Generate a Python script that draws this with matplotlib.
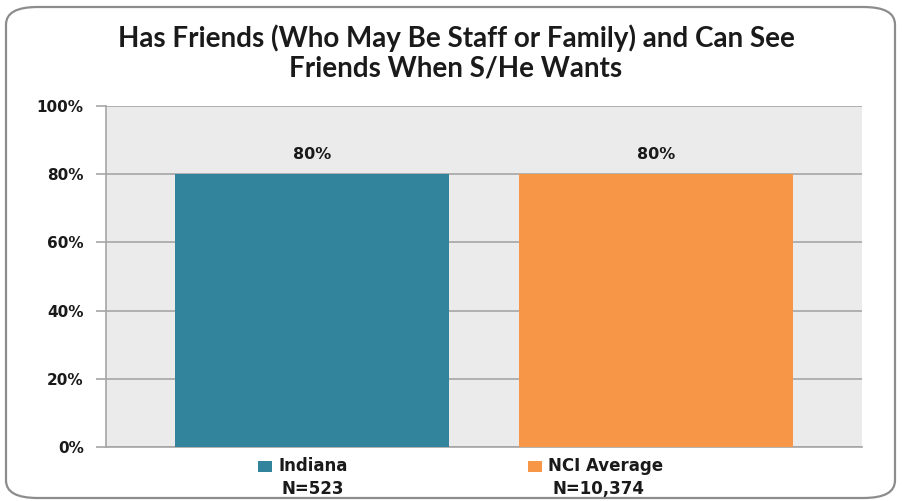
import matplotlib
matplotlib.use("Agg")
import matplotlib.pyplot as plt
from matplotlib.patches import FancyBboxPatch, Rectangle
from matplotlib.ticker import FuncFormatter

series = ["Indiana", "NCI Average"]
values = [80, 80]
n_labels = ["N=523", "N=10,374"]
colors = ["#31849b", "#f79646"]
title = "Has Friends (Who May Be Staff or Family) and Can See\nFriends When S/He Wants"

W, H = 902, 501
fig = plt.figure(figsize=(W/100, H/100), dpi=100)
fig.patch.set_facecolor("white")

# rounded frame
frame = FancyBboxPatch((6/W, 1-498/H), (889/W), (491/H),
                       boxstyle="round,pad=0,rounding_size=0.035",
                       transform=fig.transFigure, facecolor="white",
                       edgecolor="#8c8c8c", linewidth=1.6, zorder=-10)
fig.patches.append(frame)

ax = fig.add_axes([106/W, 1-447/H, (862-106)/W, (447-106)/H])
ax.set_zorder(5)
ax.set_facecolor("#ebebeb")
x = [0, 1]
ax.bar(x, values, width=0.797, color=colors, zorder=3)
ax.set_xlim(-0.599, 1.599)
ax.set_ylim(0, 100)
ax.set_yticks(range(0, 101, 20))
ax.yaxis.set_major_formatter(FuncFormatter(lambda v, p: f"{int(v)}%"))
ax.grid(axis="y", color="#a6a6a6", linewidth=1.2, zorder=1)
ax.set_axisbelow(True)
ax.set_xticks([])
for s in ["top", "right"]:
    ax.spines[s].set_visible(False)
for s in ["left", "bottom"]:
    ax.spines[s].set_color("#a6a6a6")
    ax.spines[s].set_linewidth(1.2)
ax.tick_params(axis="y", length=7, color="#a6a6a6", width=1.2, pad=9)
for lab in ax.get_yticklabels():
    lab.set_fontfamily("DejaVu Sans")
    lab.set_fontweight("bold")
    lab.set_fontsize(11)
    lab.set_color("#1a1a1a")

for xi, v in zip(x, values):
    ax.annotate(f"{v}%", (xi, v), xytext=(0, 9), textcoords="offset points",
                ha="center", va="bottom", fontsize=11.5, fontweight="bold",
                family="DejaVu Sans", color="#1a1a1a")

fig.text(456/W, 1-53/H, title, ha="center", va="center", fontsize=20,
         fontweight="bold", family="Lato", color="#1a1a1a", linespacing=1.2)

# legend-like labels under the bars
sq_x = [258, 528]
txt_x = [278, 548]
n_cx = [313, 598]
for i in range(2):
    fig.patches.append(Rectangle((sq_x[i]/W, 1-472/H), 14/W, 11/H,
                                 transform=fig.transFigure, facecolor=colors[i],
                                 edgecolor="none", zorder=6))
    fig.text(txt_x[i]/W, 1-466/H, series[i], ha="left", va="center",
             fontsize=12, fontweight="bold", family="DejaVu Sans", color="#1a1a1a")
    fig.text(n_cx[i]/W, 1-489/H, n_labels[i], ha="center", va="center",
             fontsize=12, fontweight="bold", family="DejaVu Sans", color="#1a1a1a")

fig.savefig("out.png", dpi=100)
